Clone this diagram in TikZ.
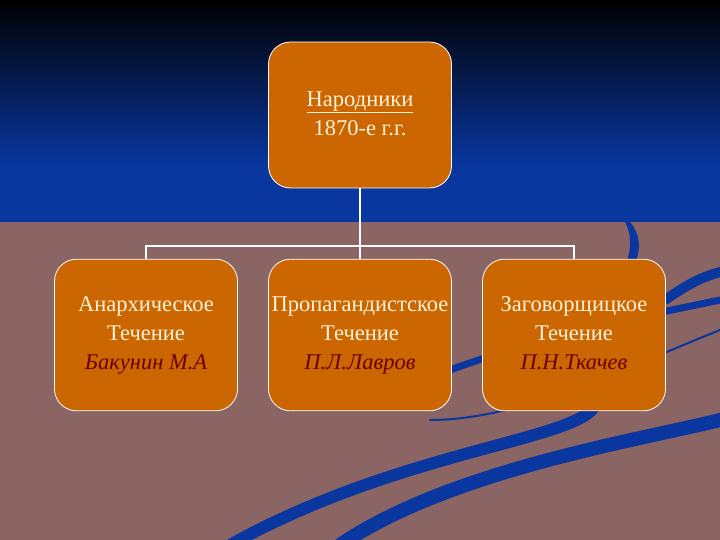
\documentclass[tikz,border=0pt]{standalone}
\usepackage{fontspec}
\setmainfont{Liberation Serif}
\begin{document}
\begin{tikzpicture}[x=1pt,y=-1pt,
  box/.style={draw=white,line width=0.8pt,fill=boxor,rounded corners=22pt,minimum width=183pt,minimum height=146pt,inner xsep=0pt,text=txt,font=\fontsize{22.5}{29}\selectfont,align=center},
  conn/.style={draw=white,line width=1.5pt},
  swoosh/.style={draw=swb,line cap=round}]
\definecolor{boxor}{HTML}{CC6600}
\definecolor{bgm}{HTML}{8B6464}
\definecolor{swb}{HTML}{0A36A0}
\definecolor{txt}{HTML}{FFF2D8}
\definecolor{nm}{HTML}{6A0000}
\useasboundingbox (0,0) rectangle (720,540);
\fill[bgm] (0,222) rectangle (720,540);
\shade[top color=black,bottom color=swb] (0,0) rectangle (720,165);
\fill[swb] (0,164) rectangle (720,222);
% swooshes
\fill[swb] (630,222) .. controls (645,240) and (640,262) .. (622,285) -- (612,290) .. controls (630,265) and (635,240) .. (625,222) -- cycle;
\draw[swoosh,line width=7pt] (720,300) .. controls (650,315) and (560,330) .. (450,370);
\draw[swoosh,line width=2pt] (720,330) .. controls (620,370) and (520,420) .. (430,420);
\draw[swoosh,line width=12pt] (595,405) .. controls (580,440) and (400,450) .. (230,545);
\draw[swoosh,line width=14pt] (720,420) .. controls (640,440) and (450,470) .. (340,545);
\draw[swoosh,line width=10pt] (730,270) .. controls (700,275) and (680,290) .. (665,300);
% boxes
\node[box] (top) at (360,115) {\underline{Народники}\strut\\1870-е г.г.\strut};
\node[box] (a) at (146,335) {\strut\\Анархическое\strut\\Течение\strut\\{\color{nm}\itshape Бакунин М.А\strut}\\\strut};
\node[box] (b) at (360,335) {\strut\\Пропагандистское\strut\\Течение\strut\\{\color{nm}\itshape П.Л.Лавров\strut}\\\strut};
\node[box] (c) at (574,335) {\strut\\Заговорщицкое\strut\\Течение\strut\\{\color{nm}\itshape П.Н.Ткачев\strut}\\\strut};
\coordinate (j) at (360,246);
\draw[conn] (top.south) -- (j);
\draw[conn] (j) -- (b.north);
\draw[conn] (a.north) |- (j) -| (c.north);
\end{tikzpicture}
\end{document}
